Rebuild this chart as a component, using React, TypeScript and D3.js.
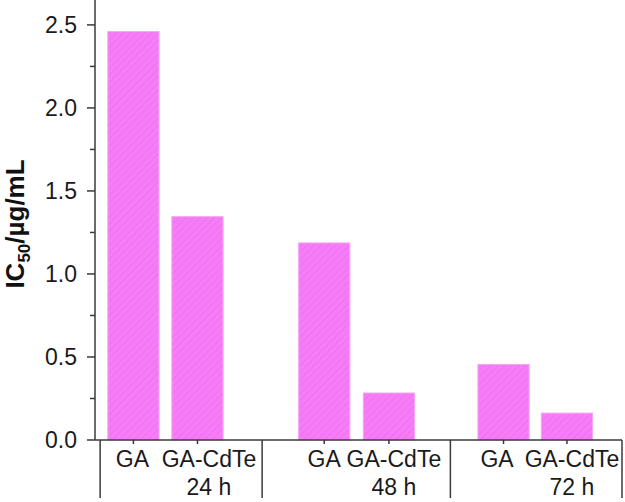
import { useEffect, useRef } from "react";
import * as d3 from "d3";

// Bar data (IC50 in µg/mL)
const sampleNames = ["GA", "GA-CdTe", "GA", "GA-CdTe", "GA", "GA-CdTe"];
const barPositions = [1, 2, 3.98, 4.99, 6.78, 7.77];
const ic50Values = [2.46, 1.345, 1.187, 0.283, 0.455, 0.162];

// Time groups
const groupLabels = ["24 h", "48 h", "72 h"];
const groupSeparators = [0.48, 3.01, 5.95, 8.63];

// Y axis ticks
const yMajorTicks = [0, 0.5, 1.0, 1.5, 2.0, 2.5];
const yMinorTicks = [0.25, 0.75, 1.25, 1.75, 2.25];

const WIDTH = 625;
const HEIGHT = 502;

export default function App() {
  const svgRef = useRef<SVGSVGElement>(null);

  useEffect(() => {
    document.body.style.margin = "0";
    if (!svgRef.current) return;

    const svg = d3.select(svgRef.current);
    svg.selectAll("*").remove();

    const font = "Arial, 'Liberation Sans', sans-serif";
    const axisColor = "#3a3a3a";
    const left = 95;
    const right = 622;
    const baseY = 440;

    const x = d3.scaleLinear().domain([0.4, 8.63]).range([left, right]);
    const y = d3.scaleLinear().domain([0, 2.65]).range([baseY, 0]);
    const barW = x(0.8) - x(0);

    // Hatch pattern
    const defs = svg.append("defs");
    const pattern = defs
      .append("pattern")
      .attr("id", "hatch")
      .attr("patternUnits", "userSpaceOnUse")
      .attr("width", 5)
      .attr("height", 5)
      .attr("patternTransform", "rotate(45)");
    pattern.append("rect").attr("width", 5).attr("height", 5).attr("fill", "#f77cf7");
    pattern
      .append("line")
      .attr("x1", 0)
      .attr("y1", 0)
      .attr("x2", 0)
      .attr("y2", 5)
      .attr("stroke", "#d95ed9")
      .attr("stroke-width", 1)
      .attr("stroke-opacity", 0.6);

    // Bars
    svg
      .selectAll(".bar")
      .data(ic50Values)
      .join("rect")
      .attr("class", "bar")
      .attr("x", (_, i) => x(barPositions[i]) - barW / 2)
      .attr("y", (d) => y(d))
      .attr("width", barW)
      .attr("height", (d) => baseY - y(d))
      .attr("fill", "url(#hatch)")
      .attr("stroke", "#f3a6f3")
      .attr("stroke-width", 1);

    // Y axis
    const yAxis = svg.append("g").attr("transform", `translate(${left},0)`);
    yAxis
      .append("line")
      .attr("y1", 0)
      .attr("y2", baseY)
      .attr("stroke", axisColor)
      .attr("stroke-width", 1.5);
    yAxis
      .selectAll(".major")
      .data(yMajorTicks)
      .join("line")
      .attr("class", "major")
      .attr("x1", -8)
      .attr("x2", 0)
      .attr("y1", (d) => y(d))
      .attr("y2", (d) => y(d))
      .attr("stroke", axisColor)
      .attr("stroke-width", 1.5);
    yAxis
      .selectAll(".minor")
      .data(yMinorTicks)
      .join("line")
      .attr("class", "minor")
      .attr("x1", -5)
      .attr("x2", 0)
      .attr("y1", (d) => y(d))
      .attr("y2", (d) => y(d))
      .attr("stroke", axisColor)
      .attr("stroke-width", 1.5);
    yAxis
      .selectAll(".tlabel")
      .data(yMajorTicks)
      .join("text")
      .attr("class", "tlabel")
      .attr("x", -18)
      .attr("y", (d) => y(d))
      .attr("dy", "0.36em")
      .attr("text-anchor", "end")
      .attr("font-family", font)
      .attr("font-size", 23)
      .attr("fill", "#1a1a1a")
      .text((d) => d3.format(".1f")(d));

    // Y axis title
    const title = svg
      .append("text")
      .attr("transform", "translate(24,224) rotate(-90)")
      .attr("text-anchor", "middle")
      .attr("font-family", font)
      .attr("font-size", 26)
      .attr("font-weight", "bold")
      .attr("fill", "#111");
    title.append("tspan").text("IC");
    title.append("tspan").attr("font-size", 17).attr("dy", 6).text("50");
    title.append("tspan").attr("dy", -6).text("/µg/mL");

    // X axis
    const xAxis = svg.append("g");
    xAxis
      .append("line")
      .attr("x1", left)
      .attr("x2", right)
      .attr("y1", baseY)
      .attr("y2", baseY)
      .attr("stroke", axisColor)
      .attr("stroke-width", 1.5);
    xAxis
      .selectAll(".xtick")
      .data(barPositions)
      .join("line")
      .attr("class", "xtick")
      .attr("x1", (d) => x(d))
      .attr("x2", (d) => x(d))
      .attr("y1", baseY)
      .attr("y2", baseY + 4)
      .attr("stroke", axisColor)
      .attr("stroke-width", 1.5);
    xAxis
      .selectAll(".sep")
      .data(groupSeparators)
      .join("line")
      .attr("class", "sep")
      .attr("x1", (d) => x(d))
      .attr("x2", (d) => x(d))
      .attr("y1", baseY)
      .attr("y2", 498)
      .attr("stroke", axisColor)
      .attr("stroke-width", 1.5);

    // label nudges to match the reference placement
    const labelShift = [-1, 11.5, 0, 5, -6.5, 5];
    xAxis
      .selectAll(".xlabel")
      .data(sampleNames)
      .join("text")
      .attr("class", "xlabel")
      .attr("x", (_, i) => x(barPositions[i]) + labelShift[i])
      .attr("y", 467)
      .attr("text-anchor", "middle")
      .attr("font-family", font)
      .attr("font-size", 23)
      .attr("fill", "#1a1a1a")
      .text((d) => d);
    xAxis
      .selectAll(".glabel")
      .data(groupLabels)
      .join("text")
      .attr("class", "glabel")
      .attr("x", (_, i) => x(barPositions[i * 2 + 1]) + labelShift[i * 2 + 1])
      .attr("y", 495)
      .attr("text-anchor", "middle")
      .attr("font-family", font)
      .attr("font-size", 23)
      .attr("fill", "#1a1a1a")
      .text((d) => d);
  }, []);

  return (
    <svg
      ref={svgRef}
      width={WIDTH}
      height={HEIGHT}
      style={{ display: "block", background: "#fff" }}
    />
  );
}
